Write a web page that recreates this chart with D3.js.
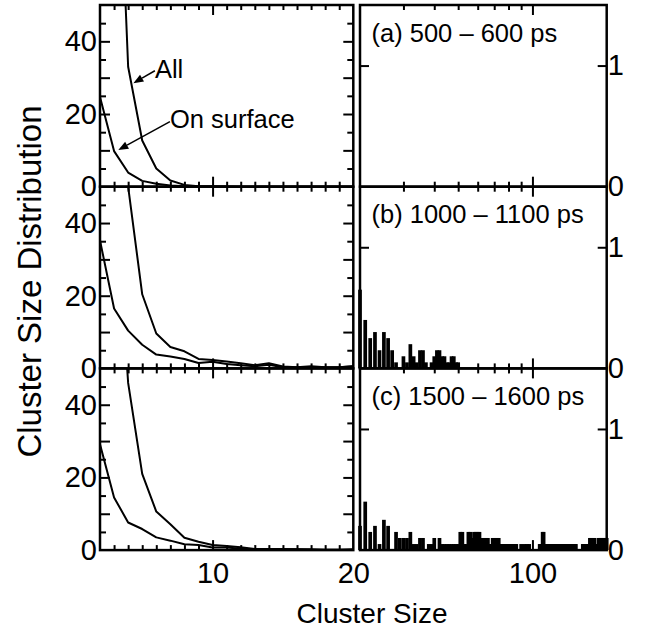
<!DOCTYPE html>
<html>
<head>
<meta charset="utf-8">
<script src="https://cdn.jsdelivr.net/npm/d3@7"></script>
<style>
  body { margin: 0; background: #fff; }
  svg text { font-family: "Liberation Sans", Arial, Helvetica, sans-serif; fill: #000; }
</style>
</head>
<body>
<div id="chart"></div>
<script>
// Cluster sizes shown in the left (linear) panels
var smallSizes = [2, 3, 4, 5, 6, 7, 8, 9, 10, 11, 12, 13, 14, 15, 16, 17, 18, 19, 20];

// Left panels: "All" and "On surface" curves, one value per size above
var allA = [400, 127, 33, 12.7, 5.0, 1.7, 0.5, 0.15, 0.1, 0.05, 0, 0, 0, 0, 0, 0, 0, 0, 0];
var surfA = [24.7, 9.8, 3.9, 1.6, 0.8, 0.3, 0.1, 0, 0, 0, 0, 0, 0, 0, 0, 0, 0, 0, 0];

var allB = [400, 200, 50, 20.4, 9.6, 5.9, 4.7, 2.6, 2.3, 1.9, 1.4, 0.9, 1.4, 0.5, 0.3, 0.6, 0.3, 0.3, 0.6];
var surfB = [35.2, 16.5, 10.4, 6.5, 3.8, 3.3, 2.6, 1.5, 1.8, 1.2, 0.9, 0.6, 1.0, 0.3, 0.3, 0.4, 0.3, 0.3, 0.6];

var allC = [250, 104, 46, 21, 10.6, 7.1, 3.4, 2.3, 1.4, 1.1, 0.8, 0.3, 0.3, 0.3, 0.2, 0.2, 0.1, 0.1, 0.2];
var surfC = [29.1, 14.5, 7.6, 5.8, 3.5, 2.6, 1.6, 1.4, 0.7, 0.7, 0.4, 0.1, 0.2, 0.2, 0.2, 0.1, 0.1, 0.1, 0.1];

// Right panels: bar heights for consecutive cluster sizes starting at 20
var barStart = 20;
var barsA = [];
var barsB = [
  0.65, 0.40, 0.25, 0.30, 0.15, 0.30, 0.25, 0.15, 0.05, 0,
  0.10, 0.05, 0.20, 0.10, 0.05, 0.15, 0.15, 0.05, 0, 0.05,
  0.10, 0.15, 0.15, 0.10, 0.10, 0.05, 0.05, 0.10, 0.10, 0.05,
  0.05
];
var barsC = [
  0.20, 0.40, 0.15, 0.20, 0.05, 0.25, 0.20, 0, 0.15, 0.10,
  0.10, 0.10, 0.15, 0.05, 0.05, 0.10, 0.10, 0, 0.05, 0.05,
  0.10, 0, 0.10, 0.05, 0.05, 0.05, 0.05, 0.05, 0.05, 0.05,
  0.05, 0.15, 0.15, 0.05, 0.05, 0.15, 0.15, 0.10, 0.15, 0.15,
  0.15, 0.15, 0.10, 0.10, 0.10, 0.10, 0.10, 0.05, 0.05, 0.10,
  0.10, 0.10, 0.10, 0.10, 0.05, 0.05, 0.05, 0.05, 0.05, 0.05,
  0.05, 0.05, 0.05, 0.05, 0.05, 0.05, 0.05, 0, 0, 0,
  0.05, 0, 0, 0.05, 0, 0.05, 0, 0.05, 0, 0,
  0, 0, 0, 0, 0, 0, 0, 0.05, 0.05, 0,
  0.15, 0.15, 0.05, 0.05, 0.05, 0.05, 0.05, 0.05, 0.05, 0.05,
  0.05, 0.05, 0.05, 0.05, 0.05, 0.05, 0.05, 0.05, 0.05, 0.05,
  0.05, 0.05, 0.05, 0.05, 0.05, 0.05, 0.05, 0.05, 0.05, 0.05,
  0.05, 0.05, 0.05, 0.05, 0.05, 0.05, 0.05, 0.05, 0.05, 0.05,
  0.05, 0, 0, 0, 0, 0, 0, 0, 0, 0,
  0.05, 0.05, 0.05, 0.05, 0.05, 0.05, 0.05, 0.05, 0.05, 0.05,
  0.05, 0.10, 0.10, 0.10, 0.05, 0.05, 0.05, 0.10, 0.10, 0.05,
  0.05, 0.05, 0.05, 0.05, 0.05, 0.10, 0.10, 0.05, 0.10, 0.10,
  0.10, 0.10, 0.05, 0.10, 0.10, 0.10, 0.05, 0.10, 0.10, 0.10,
  0.10
];

var panelLabels = ["(a) 500 \u2013 600 ps", "(b) 1000 \u2013 1100 ps", "(c) 1500 \u2013 1600 ps"];

// Tick values
var leftYLabels = [0, 20, 40];
var leftYMajor = [10, 20, 30, 40];
var leftYMinor = [5, 15, 25, 35, 45];
var leftXMajor = [10];
var leftXMinor = [3, 4, 5, 6, 7, 8, 9, 11, 12, 13, 14, 15, 16, 17, 18, 19];
var leftXLabels = [10, 20];
var rightXMajor = [100];
var rightXMinor = [30, 40, 50, 60, 70, 80, 90];
var rightYLabels = [0, 1];
var rightYTicks = [1];

var panels = [
  { all: allA, surf: surfA, bars: barsA, label: panelLabels[0] },
  { all: allB, surf: surfB, bars: barsB, label: panelLabels[1] },
  { all: allC, surf: surfC, bars: barsC, label: panelLabels[2] }
];

var render = function() {
  var width = 653;
  var height = 629;

  var leftX0 = 100, leftX1 = 353.3;
  var rightX0 = 360, rightX1 = 606.7;
  var top0 = 5;
  var panelH = 181.7;
  var barWidth = 3.7;
  var tickFont = 29;
  var noteFont = 25.5;

  var svg = d3.select("#chart")
    .append("svg")
    .attr("width", width)
    .attr("height", height);

  var xLin = d3.scaleLinear().domain([2, 20]).range([leftX0, leftX1]);
  var xLog = d3.scaleLog().domain([20, 200]).range([rightX0, rightX1]);
  var yLeft = d3.scaleLinear().domain([0, 50]).range([panelH, 0]);
  var yRight = d3.scaleLinear().domain([0, 1.5]).range([panelH, 0]);

  var addAxis = function(g, axis, tx, ty) {
    var a = g.append("g")
      .attr("transform", "translate(" + tx + "," + ty + ")")
      .call(axis);
    a.select(".domain").remove();
    a.selectAll("line").attr("stroke-width", 2);
    a.selectAll("text")
      .attr("font-size", tickFont)
      .attr("font-family", "'Liberation Sans', Arial, sans-serif");
    return a;
  };

  var line = d3.line()
    .x(function(d) { return xLin(d[0]); })
    .y(function(d) { return yLeft(d[1]); });

  panels.forEach(function(p, i) {
    var g = svg.append("g")
      .attr("transform", "translate(0," + (top0 + i * panelH) + ")");

    // clip for curves
    g.append("clipPath")
      .attr("id", "clip-" + i)
      .append("rect")
      .attr("x", leftX0)
      .attr("y", 0)
      .attr("width", leftX1 - leftX0)
      .attr("height", panelH);

    // curves
    [p.all, p.surf].forEach(function(series) {
      g.append("path")
        .datum(smallSizes.map(function(s, k) { return [s, series[k]]; }))
        .attr("clip-path", "url(#clip-" + i + ")")
        .attr("fill", "none")
        .attr("stroke", "#000")
        .attr("stroke-width", 2)
        .attr("stroke-linejoin", "round")
        .attr("d", line);
    });

    // bars
    g.append("g")
      .selectAll("rect")
      .data(p.bars.map(function(v, k) { return { size: barStart + k, value: v }; })
        .filter(function(d) { return d.value > 0; }))
      .enter()
      .append("rect")
      .attr("x", function(d) { return xLog(d.size) - barWidth / 2; })
      .attr("width", barWidth)
      .attr("y", function(d) { return yRight(d.value); })
      .attr("height", function(d) { return panelH - yRight(d.value); })
      .attr("fill", "#000");

    // left panel ticks
    addAxis(g, d3.axisRight(yLeft).tickValues(leftYMajor).tickSize(10).tickFormat(""), leftX0, 0);
    addAxis(g, d3.axisRight(yLeft).tickValues(leftYMinor).tickSize(6).tickFormat(""), leftX0, 0);
    addAxis(g, d3.axisLeft(yLeft).tickValues(leftYMajor).tickSize(10).tickFormat(""), leftX1, 0);
    addAxis(g, d3.axisLeft(yLeft).tickValues(leftYMinor).tickSize(6).tickFormat(""), leftX1, 0);
    addAxis(g, d3.axisBottom(xLin).tickValues(leftXMajor).tickSize(10).tickFormat(""), 0, 0);
    addAxis(g, d3.axisBottom(xLin).tickValues(leftXMinor).tickSize(5).tickFormat(""), 0, 0);
    addAxis(g, d3.axisTop(xLin).tickValues(leftXMajor).tickSize(10).tickFormat(""), 0, panelH);
    addAxis(g, d3.axisTop(xLin).tickValues(leftXMinor).tickSize(5).tickFormat(""), 0, panelH);
    addAxis(g, d3.axisLeft(yLeft).tickValues(leftYLabels).tickSize(0).tickPadding(3), leftX0, 0);

    // right panel ticks
    addAxis(g, d3.axisRight(yRight).tickValues(rightYTicks).tickSize(9).tickFormat(""), rightX0, 0);
    addAxis(g, d3.axisLeft(yRight).tickValues(rightYTicks).tickSize(9).tickFormat(""), rightX1, 0);
    addAxis(g, d3.axisBottom(xLog).tickValues(rightXMajor).tickSize(10).tickFormat(""), 0, 0);
    addAxis(g, d3.axisBottom(xLog).tickValues(rightXMinor).tickSize(5).tickFormat(""), 0, 0);
    addAxis(g, d3.axisTop(xLog).tickValues(rightXMajor).tickSize(10).tickFormat(""), 0, panelH);
    addAxis(g, d3.axisTop(xLog).tickValues(rightXMinor).tickSize(5).tickFormat(""), 0, panelH);
    addAxis(g, d3.axisRight(yRight).tickValues(rightYLabels).tickSize(0).tickPadding(1)
      .tickFormat(d3.format("d")), rightX1, 0);

    // frames
    g.append("rect")
      .attr("x", leftX0).attr("y", 0)
      .attr("width", leftX1 - leftX0).attr("height", panelH)
      .attr("fill", "none").attr("stroke", "#000").attr("stroke-width", 2.5);
    g.append("rect")
      .attr("x", rightX0).attr("y", 0)
      .attr("width", rightX1 - rightX0).attr("height", panelH)
      .attr("fill", "none").attr("stroke", "#000").attr("stroke-width", 2.5);

    // panel label
    g.append("text")
      .attr("x", rightX0 + 11.5)
      .attr("y", 36.5)
      .attr("font-size", noteFont)
      .text(p.label);

    // bottom labels
    if (i === panels.length - 1) {
      addAxis(g, d3.axisBottom(xLin).tickValues(leftXLabels).tickSize(0).tickPadding(12), 0, panelH);
      addAxis(g, d3.axisBottom(xLog).tickValues(rightXMajor).tickSize(0).tickPadding(12)
        .tickFormat(d3.format("d")), 0, panelH);
    }

    // annotations with arrows in the first panel
    if (i === 0) {
      var notes = [
        { text: "All", tx: 5.9, ty: 29.9, from: [5.9, 31.9], to: [4.37, 28.5] },
        { text: "On surface", tx: 6.97, ty: 16.1, from: [6.97, 17.9], to: [3.3, 10.1] }
      ];
      notes.forEach(function(n) {
        var x1 = xLin(n.from[0]), y1 = yLeft(n.from[1]);
        var x2 = xLin(n.to[0]), y2 = yLeft(n.to[1]);
        var ang = Math.atan2(y2 - y1, x2 - x1);
        var len = 10, half = 4;
        var bx = x2 - len * Math.cos(ang), by = y2 - len * Math.sin(ang);
        g.append("line")
          .attr("x1", x1).attr("y1", y1)
          .attr("x2", bx).attr("y2", by)
          .attr("stroke", "#000").attr("stroke-width", 1.5);
        g.append("polygon")
          .attr("points", [
            [x2, y2],
            [bx + half * Math.sin(ang), by - half * Math.cos(ang)],
            [bx - half * Math.sin(ang), by + half * Math.cos(ang)]
          ].map(function(pt) { return pt.join(","); }).join(" "))
          .attr("fill", "#000");
        g.append("text")
          .attr("x", xLin(n.tx))
          .attr("y", yLeft(n.ty))
          .attr("font-size", noteFont)
          .text(n.text);
      });
    }
  });

  // axis titles
  svg.append("text")
    .attr("transform", "translate(41," + (top0 + 1.5 * panelH + 4) + ") rotate(-90)")
    .attr("text-anchor", "middle")
    .attr("font-size", 33)
    .text("Cluster Size Distribution");

  svg.append("text")
    .attr("x", 372)
    .attr("y", 623)
    .attr("text-anchor", "middle")
    .attr("font-size", 28)
    .text("Cluster Size");
};

window.onload = render;
</script>
</body>
</html>
